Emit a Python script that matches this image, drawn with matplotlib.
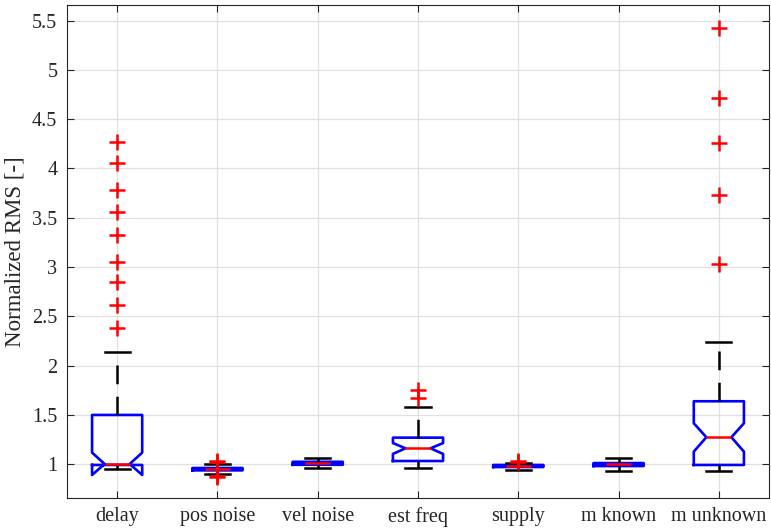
import matplotlib
matplotlib.use("Agg")
import matplotlib.pyplot as plt
from matplotlib.ticker import FormatStrFormatter

plt.rcParams["font.family"] = ["Liberation Serif", "DejaVu Serif"]

# Summary statistics for each scenario (normalized RMS)
labels = ["delay", "pos noise", "vel noise", "est freq", "supply", "m known", "m unknown"]
q1 = [0.993, 0.938, 0.995, 1.033, 0.972, 0.982, 0.993]
med = [1.003, 0.952, 1.010, 1.162, 0.985, 0.998, 1.274]
q3 = [1.500, 0.962, 1.025, 1.270, 0.993, 1.012, 1.639]
whislo = [0.949, 0.905, 0.963, 0.960, 0.945, 0.935, 0.932]
whishi = [2.142, 1.005, 1.067, 1.578, 1.015, 1.060, 2.237]
ci_lo = [0.891, 0.947, 1.006, 1.105, 0.981, 0.994, 1.128]
ci_hi = [1.118, 0.957, 1.014, 1.215, 0.989, 1.002, 1.416]
outliers = [
    [4.272, 4.056, 3.779, 3.559, 3.329, 3.052, 2.852, 2.613, 2.383],
    [1.035, 1.020, 0.885, 0.872],
    [],
    [1.755, 1.675],
    [1.035, 1.025],
    [],
    [5.428, 4.718, 4.262, 3.731, 3.028],
]

stats = []
for i, lab in enumerate(labels):
    stats.append(dict(label=lab, q1=q1[i], med=med[i], q3=q3[i],
                      whislo=whislo[i], whishi=whishi[i],
                      cilo=ci_lo[i], cihi=ci_hi[i], fliers=outliers[i]))

fig = plt.figure(figsize=(7.71, 5.29), dpi=100)
ax = fig.add_axes([0.0869, 0.0592, 0.9105, 0.9319])

lw = 1.8
ax.bxp(stats, positions=range(1, len(labels) + 1), widths=0.5, capwidths=0.25,
       shownotches=True, showfliers=True,
       boxprops=dict(color="#0000ff", linewidth=1.9),
       medianprops=dict(color="#ff0000", linewidth=lw),
       whiskerprops=dict(color="black", linewidth=lw, linestyle=(0, (7.5, 5))),
       capprops=dict(color="black", linewidth=lw),
       flierprops=dict(marker="+", markeredgecolor="#ff0000", markersize=12,
                       markeredgewidth=1.8, linestyle="none"))

ax.set_xlim(0.5, 7.5)
ax.set_ylim(0.661, 5.661)
ax.set_yticks([1, 1.5, 2, 2.5, 3, 3.5, 4, 4.5, 5, 5.5])
ax.yaxis.set_major_formatter(FormatStrFormatter("%g"))
ax.set_xticks(range(1, len(labels) + 1))
ax.set_xticklabels(labels)

ax.set_axisbelow(True)
ax.grid(True, color="#e0e0e0", linewidth=0.9)
for sp in ax.spines.values():
    sp.set_color("#262626")
    sp.set_linewidth(0.8)
ax.tick_params(which="both", direction="in", top=True, right=True, length=5,
               width=0.8, color="#262626", labelcolor="#262626", labelsize=14.5, pad=7)
ax.set_ylabel("Normalized RMS [-]", fontsize=16.5, color="#262626", labelpad=5)

fig.savefig("out.png", dpi=100)
